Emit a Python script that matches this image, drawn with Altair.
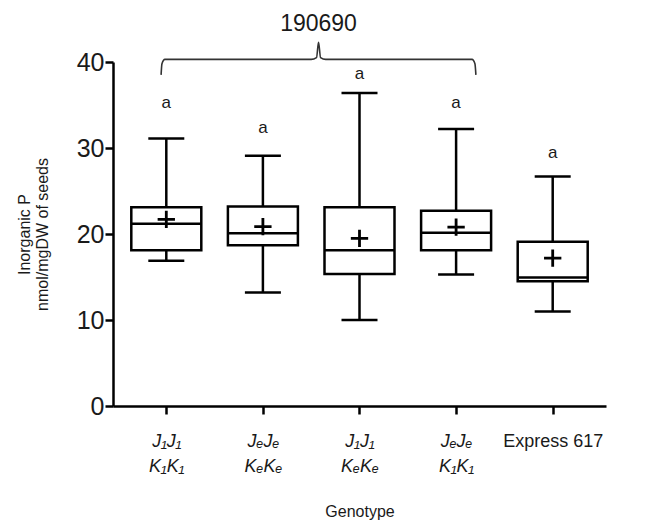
import json
import altair as alt
import pandas as pd

# ---- data ----
genotypes = ["J₁J₁|K₁K₁", "JₑJₑ|KₑKₑ", "J₁J₁|KₑKₑ", "JₑJₑ|K₁K₁", "Express 617"]
positions = [1, 2, 3, 4, 5]
whisker_low = [16.9, 13.2, 10.0, 15.3, 11.0]
q1 = [18.1, 18.7, 15.35, 18.1, 14.5]
median = [21.2, 20.1, 18.1, 20.15, 14.95]
q3 = [23.1, 23.2, 23.1, 22.7, 19.1]
whisker_high = [31.1, 29.1, 36.4, 32.2, 26.7]
mean = [21.7, 20.85, 19.5, 20.8, 17.2]
letters = ["a", "a", "a", "a", "a"]
letter_y = [35.2, 32.3, 38.6, 35.2, 29.4]

# curly bracket annotation (data space)
brace_x = [0.946, 0.955, 0.985, 2.50, 2.555, 2.576, 2.597, 2.65, 4.165, 4.195, 4.205]
brace_y = [38.5, 39.8, 40.3, 40.3, 40.5, 42.3, 40.5, 40.3, 40.3, 39.8, 38.5]
brace_label = "190690"
brace_label_x = 2.576
brace_label_y = 44.4

df = pd.DataFrame({
    "pos": positions, "lo": whisker_low, "q1": q1, "med": median,
    "q3": q3, "hi": whisker_high, "mean": mean,
    "letter": letters, "ly": letter_y,
})
brace = pd.DataFrame({"x": brace_x, "y": brace_y, "order": list(range(len(brace_x)))})
blabel = pd.DataFrame({"x": [brace_label_x], "y": [brace_label_y], "t": [brace_label]})

FONT = "Liberation Sans"
INK = "#000000"
TXT = "#1a1a1a"

label_expr = "split(" + json.dumps(genotypes, ensure_ascii=False) + "[datum.value - 1], '|')"

x = alt.X("pos:Q",
          scale=alt.Scale(domain=[0.5, 5.5], nice=False, zero=False),
          axis=alt.Axis(values=positions, labelExpr=label_expr, title="Genotype",
                        grid=False, domain=True, domainColor=INK, domainWidth=2.5,
                        tickColor=INK, tickWidth=2.5, tickSize=8,
                        labelFont=FONT, labelFontSize=18, labelColor=TXT,
                        labelFontStyle=alt.condition("datum.value == 5", alt.value("normal"), alt.value("italic")),
                        labelLineHeight=25, labelPadding=18, labelBaseline="top",
                        titleFont=FONT, titleFontSize=16, titleFontWeight="normal",
                        titleColor=TXT, titlePadding=28))

y_scale = alt.Scale(domain=[0, 40], nice=False)
y_axis = alt.Axis(values=[0, 10, 20, 30, 40], title=["Inorganic P", "nmol/mgDW of seeds"],
                  grid=False, domainColor=INK, domainWidth=2.5, tickColor=INK, tickWidth=2.5,
                  tickSize=8, labelFont=FONT, labelFontSize=25, labelColor=TXT, labelPadding=1,
                  titleFont=FONT, titleFontSize=16, titleFontWeight="normal", titleColor=TXT,
                  titlePadding=26, titleLineHeight=18)

base = alt.Chart(df)

whiskers = base.mark_rule(color=INK, strokeWidth=2.5).encode(
    x=x, y=alt.Y("lo:Q", scale=y_scale, axis=y_axis), y2="hi:Q")
caps_lo = base.mark_tick(orient="horizontal", size=36, thickness=2.5, color=INK, opacity=1).encode(x="pos:Q", y="lo:Q")
caps_hi = base.mark_tick(orient="horizontal", size=36, thickness=2.5, color=INK, opacity=1).encode(x="pos:Q", y="hi:Q")
boxes = base.mark_bar(size=70, fill="white", stroke=INK, strokeWidth=2.5, opacity=1).encode(
    x="pos:Q", y="q1:Q", y2="q3:Q")
medians = base.mark_tick(orient="horizontal", size=70, thickness=2.5, color=INK, opacity=1).encode(x="pos:Q", y="med:Q")
means = base.mark_point(shape="M -1 0 L 1 0 M 0 -1 L 0 1", size=300, filled=False,
                        stroke=INK, strokeWidth=2.8, opacity=1).encode(x="pos:Q", y="mean:Q")
letter_marks = base.mark_text(font=FONT, fontSize=17, color=TXT, baseline="middle").encode(
    x="pos:Q", y="ly:Q", text="letter:N")

brace_line = alt.Chart(brace).mark_line(color="#333333", strokeWidth=1.6, interpolate="monotone").encode(
    x="x:Q", y="y:Q", order="order:Q")
brace_text = alt.Chart(blabel).mark_text(font=FONT, fontSize=23, color=TXT, baseline="middle").encode(
    x="x:Q", y="y:Q", text="t:N")

chart = alt.layer(whiskers, caps_lo, caps_hi, boxes, medians, means, letter_marks,
                  brace_line, brace_text).properties(
    width=493, height=344,
    background="white",
    autosize=alt.AutoSizeParams(type="none"),
    padding={"left": 105, "top": 54, "right": 30, "bottom": 116},
).configure_view(strokeWidth=0, stroke=None)

chart.save("out.html", embed_options={"renderer": "svg", "actions": False})
